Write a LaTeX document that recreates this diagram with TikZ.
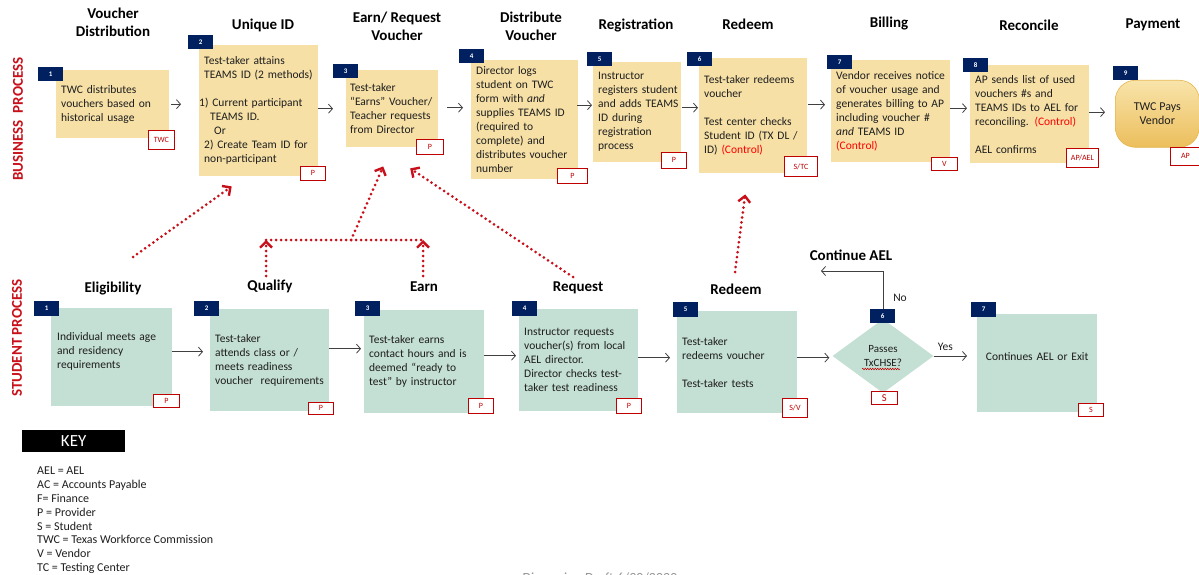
\documentclass[tikz,border=0pt]{standalone}
\usepackage{fontspec}
\setmainfont{Carlito}
\usetikzlibrary{arrows.meta,shapes.geometric,decorations.pathmorphing,calc}
\definecolor{yel}{RGB}{246,224,166}
\definecolor{grn}{RGB}{196,223,211}
\definecolor{navy}{RGB}{0,32,96}
\definecolor{tagred}{RGB}{192,0,0}
\definecolor{dred}{RGB}{200,16,26}
\definecolor{ctrl}{RGB}{255,0,0}
\definecolor{txt}{RGB}{30,30,30}
\definecolor{agray}{RGB}{64,64,64}
\definecolor{goldA}{RGB}{248,228,170}
\definecolor{goldB}{RGB}{236,190,92}
\definecolor{goldE}{RGB}{230,182,80}
\definecolor{draftgray}{RGB}{150,150,150}
\newcommand\bodyf{\fontsize{11.5}{14}\selectfont}
\newcommand\titlef{\fontsize{15}{18}\selectfont\bfseries}
\newcommand\keyf{\fontsize{12}{13.8}\selectfont}
\begin{document}
\begin{tikzpicture}[x=1pt,y=-1pt,
  ybox/.style={fill=yel, inner xsep=5pt, inner ysep=0pt, align=left, anchor=north west, font=\bodyf, text=txt},
  gbox/.style={fill=grn, inner xsep=5pt, inner ysep=0pt, align=left, anchor=north west, font=\bodyf, text=txt},
  badge/.style={fill=navy, text=white, font=\fontsize{7}{7}\selectfont\bfseries, minimum width=25pt, minimum height=13.5pt, inner sep=0pt, anchor=north west},
  tag/.style={fill=white, draw=tagred, line width=0.8pt, text=tagred, font=\fontsize{8}{8}\selectfont, minimum height=14pt, inner sep=0pt, anchor=north west},
  ttl/.style={font=\titlef, align=center, inner sep=0pt, text=black},
  flow/.style={draw=agray, line width=0.8pt, -{Straight Barb[length=4pt,width=9pt]}},
  reddot/.style={draw=dred, line width=3pt, dash pattern=on 0pt off 5pt, line cap=round},
  redarr/.style={reddot, -{Straight Barb[length=6pt,width=12pt,line width=2.4pt]}},
  lbl/.style={font=\fontsize{11.5}{14}\selectfont, text=txt, inner sep=0pt},
  side/.style={rotate=90, font=\fontsize{15}{15}\selectfont\bfseries, text=dred},
]
\useasboundingbox (0,0) rectangle (1199,575);

% side labels
\node[side] (bp) at (18,119) {BUSINESS\ \ PROCESS};
\node[side] (sp) at (17,338) {STUDENT PROCESS};

% business titles
\node[ttl] (h1) at (113,22) {Voucher\\Distribution};
\node[ttl] (h2) at (263,25) {Unique ID};
\node[ttl] (h3) at (397,26) {Earn/ Request\\Voucher};
\node[ttl] (h4) at (531,26) {Distribute\\Voucher};
\node[ttl] (h5) at (636,25) {Registration};
\node[ttl] (h6) at (748,24) {Redeem};
\node[ttl] (h7) at (889,24) {Billing};
\node[ttl] (h8) at (1029,25) {Reconcile};
\node[ttl] (h9) at (1153,25) {Payment};

% business boxes
\node[ybox, text width=103pt, minimum height=68pt] (b1) at (56,70) {TWC distributes\\vouchers based on\\historical usage};
\node[ybox, text width=109pt, minimum height=131pt] (b2) at (199,45) {Test-taker attains\\TEAMS ID (2 methods)\\~\\\hspace*{-5pt}1) Current participant\\\hspace*{6pt}TEAMS ID.\\\hspace*{10pt}Or\\2) Create Team ID for\\non-participant};
\node[ybox, inner xsep=4pt, text width=84pt, minimum height=77pt] (b3) at (346,70) {Test-taker\\\mbox{“Earns” Voucher/}\\\mbox{Teacher requests}\\from Director};
\node[ybox, text width=97pt, minimum height=119pt] (b4) at (471,60) {Director logs\\student on TWC\\form with \textit{and}\\\mbox{supplies TEAMS ID}\\(required to\\complete) and\\\mbox{distributes voucher}\\number};
\node[ybox, text width=78pt, minimum height=100pt] (b5) at (593,62) {Instructor\\\mbox{registers student}\\\mbox{and adds TEAMS}\\ID during\\registration\\process};
\node[ybox, text width=98pt, minimum height=115pt] (b6) at (699,58) {\mbox{Test-taker redeems}\\voucher\\~\\\mbox{Test center checks}\\\mbox{Student ID (TX DL /}\\ID) \textcolor{ctrl}{(Control)}};
\node[ybox, text width=109pt, minimum height=102pt] (b7) at (831,60) {\mbox{Vendor receives notice}\\\mbox{of voucher usage and}\\\mbox{generates billing to AP}\\including voucher \#\\\textit{and} TEAMS ID\\\textcolor{ctrl}{(Control)}};
\node[ybox, text width=109pt, minimum height=98pt] (b8) at (970,65) {\mbox{AP sends list of used}\\vouchers \#s and\\\mbox{TEAMS IDs to AEL for}\\\mbox{reconciling. \textcolor{ctrl}{(Control)}}\\~\\AEL confirms};
\node[draw=goldE, line width=0.6pt, top color=goldA, bottom color=goldB, rounded corners=20pt, minimum width=84pt, minimum height=67pt, anchor=north west, align=center, font=\fontsize{12}{14}\selectfont, text=txt] (n9) at (1115,80) {TWC Pays\\Vendor};

% business badges
\node[badge] (k1) at (38,67) {1};
\node[badge] (k2) at (188,35) {2};
\node[badge] (k3) at (333,64) {3};
\node[badge] (k4) at (459,49) {4};
\node[badge] (k5) at (587,52) {5};
\node[badge] (k6) at (687,52) {6};
\node[badge] (k7) at (827,55) {7};
\node[badge] (k8) at (963,58) {8};
\node[badge] (k9) at (1113,66) {9};

% business tags
\node[tag, minimum width=26pt, minimum height=19pt] (t1) at (148,130) {TWC};
\node[tag, minimum width=25pt] (t2) at (300,166) {P};
\node[tag, minimum width=27pt, minimum height=15pt] (t3) at (416,139) {P};
\node[tag, minimum width=30pt, minimum height=15pt] (t4) at (557,168) {P};
\node[tag, minimum width=25pt, minimum height=16pt] (t5) at (661,152) {P};
\node[tag, minimum width=33pt, minimum height=20pt] (t6) at (784,156) {S/TC};
\node[tag, minimum width=26pt, minimum height=13pt] (t7) at (931,157) {V};
\node[tag, minimum width=32pt, minimum height=19pt] (t8) at (1066,148) {AP/AEL};
\node[tag, minimum width=30pt, minimum height=18pt] (t9) at (1170,147) {AP};

% business flow arrows
\draw[flow] ($(b1.east)+(2,0)$) -- ($(b1.east -| b2.west)+(-18,0)$);
\draw[flow] ($(b2.east)+(0,-2)$) -- ($(b2.east -| b3.west)+(-13,-2)$);
\draw[flow] ($(b3.east)+(9,-1)$) -- ($(b3.east -| b4.west)+(-8,-1)$);
\draw[flow] ($(b4.east)+(-1,-14.5)$) -- ($(b4.east -| b5.west)+(-1,-14.5)$);
\draw[flow] ($(b5.east)+(1,-4.5)$) -- ($(b5.east -| b6.west)+(-1,-4.5)$);
\draw[flow] ($(b6.east)+(1,-11)$) -- ($(b6.east -| b7.west)+(-6,-11)$);
\draw[flow] ($(b7.east)+(0,-3)$) -- ($(b7.east -| b8.west)+(-3,-3)$);
\draw[flow] ($(b8.east)+(0,-2)$) -- ($(b8.east -| n9.west)+(-10,-2)$);

% student titles
\node[ttl] (g1) at (113,289) {Eligibility};
\node[ttl] (g2) at (270,286) {Qualify};
\node[ttl] (g3) at (424,287) {Earn};
\node[ttl] (g4) at (578,288) {Request};
\node[ttl] (g5) at (736,289) {Redeem};
\node[ttl] (g6) at (851,255) {Continue AEL};

% student boxes
\node[gbox, inner xsep=6pt, text width=109pt, minimum height=98pt] (s1) at (51,308) {Individual meets age\\and residency\\requirements\\~};
\node[gbox, text width=109pt, minimum height=102pt] (s2) at (210,309) {Test-taker\\attends class or /\\meets readiness\\\mbox{voucher\ \ requirements}};
\node[gbox, text width=110pt, minimum height=103pt] (s3) at (364,310) {Test-taker earns\\\mbox{contact hours and is}\\deemed “ready to\\\mbox{test” by instructor}};
\node[gbox, text width=109pt, minimum height=102pt] (s4) at (519,309) {Instructor requests\\\mbox{voucher(s) from local}\\AEL director.\\\mbox{Director checks test-}\\\mbox{taker test readiness}};
\node[gbox, text width=110pt, minimum height=102pt] (s5) at (677,311) {Test-taker\\redeems voucher\\~\\Test-taker tests};
\node[diamond, fill=grn, minimum width=101pt, minimum height=74pt, inner sep=0pt, align=center, font=\fontsize{11}{14}\selectfont, text=txt] (d6) at (883,356) {Passes\\TxCHSE?};
\node[gbox, align=center, text width=110pt, minimum height=98pt] (s7) at (977,314) {Continues AEL or Exit\\~};
\draw[tagred, line width=0.5pt, decorate, decoration={snake, amplitude=0.8pt, segment length=2.5pt}] ($(d6.center)+(-21,13)$) -- ($(d6.center)+(17,13)$);

% No branch (drawn before badge 6)
\coordinate (noEnd) at (821,271);
\draw[flow] (d6.north) -- (d6.north |- noEnd) -- (noEnd);
\node[lbl] (no) at (900,298) {No};

% student badges
\node[badge, minimum height=14.5pt] (j1) at (34,301) {1};
\node[badge, minimum height=14.5pt] (j2) at (194,301) {2};
\node[badge, minimum height=14.5pt] (j3) at (355,301) {3};
\node[badge, minimum height=14.5pt] (j4) at (512,301) {4};
\node[badge, minimum height=14.5pt] (j5) at (673,302) {5};
\node[badge, minimum height=13.5pt] (j6) at (870,309) {6};
\node[badge, minimum height=14.5pt] (j7) at (971,302) {7};

% student tags
\node[tag, minimum width=26pt, minimum height=13pt] (u1) at (153,394) {P};
\node[tag, minimum width=25pt, minimum height=12pt] (u2) at (308,402) {P};
\node[tag, minimum width=25pt, minimum height=15pt] (u3) at (468,398) {P};
\node[tag, minimum width=25pt, minimum height=15pt] (u4) at (616,398) {P};
\node[tag, minimum width=25pt, minimum height=19pt] (u5) at (782,398) {S/V};
\node[tag, minimum width=26pt, minimum height=13pt, font=\fontsize{10.5}{10.5}\selectfont] (u6) at (871,391) {S};
\node[tag, minimum width=25pt, minimum height=13pt] (u7) at (1078,403) {S};

% student flow arrows
\draw[flow] ($(s1.east)+(0,-5.5)$) -- ($(s1.east -| s2.west)+(-7,-5.5)$);
\draw[flow] ($(s2.east)+(0,-11.5)$) -- ($(s2.east -| s3.west)+(-3,-11.5)$);
\draw[flow] ($(s3.east)+(0,-6)$) -- ($(s3.east -| s4.west)+(-3,-6)$);
\draw[flow] ($(s4.east)+(0,-2.5)$) -- ($(s4.east -| s5.west)+(-7,-2.5)$);
\draw[flow] ($(s5.east)+(0,-4.5)$) -- ($(s5.east -| d6.west)+(-3,-4.5)$);
\draw[flow] (d6.east) -- node[lbl, above=5pt, pos=0.35] (yes) {Yes} ($(d6.east -| s7.west)+(-10,0)$);

% red dotted dependency arrows
\coordinate (elS) at (133,257);
\coordinate (qS) at (266,276);
\coordinate (eS) at (423,276);
\coordinate (qTop) at (266,240);
\coordinate (eTop) at (423,240);
\coordinate (mid) at (351,240);
\coordinate (rqS) at (573,277);
\coordinate (rdS) at (735,272);
\draw[redarr] (elS) -- ($(b2.south)+(-27,10)$);
\draw[reddot] (qTop) -- (eTop);
\draw[redarr] (qS) -- (qTop);
\draw[redarr] (eS) -- (eTop);
\draw[redarr] (mid) -- ($(b3.south)+(-9,19)$);
\draw[redarr] (rqS) -- ($(b3.south)+(18,21)$);
\draw[redarr] (rdS) -- ($(b6.south)+(-8,21)$);

% key
\node[fill=black, text=white, minimum width=103pt, minimum height=22pt, anchor=north west, font=\fontsize{17}{17}\selectfont, inner sep=0pt] (key) at (22,430) {KEY};
\node[anchor=north west, align=left, font=\keyf, text=txt, inner sep=0pt] (keyt) at (37,467) {AEL = AEL\\AC = Accounts Payable\\F= Finance\\P = Provider\\S = Student\\TWC = Texas Workforce Commission\\V = Vendor\\TC = Testing Center};

% footer
\node[font=\fontsize{14}{14}\selectfont, text=draftgray] (draft) at (600,578) {Discussion Draft 6/30/2020};
\end{tikzpicture}
\end{document}
